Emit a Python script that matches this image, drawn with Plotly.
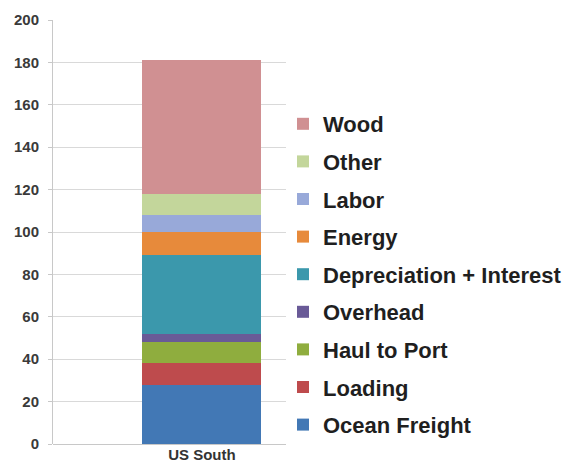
import plotly.graph_objects as go

# Cost build-up for a single supply region, stacked bottom to top
region = ["US South"]
components = [
    "Ocean Freight", "Loading", "Haul to Port", "Overhead",
    "Depreciation + Interest", "Energy", "Labor", "Other", "Wood",
]
costs = [28, 10, 10, 4, 37, 11, 8, 10, 63]
colors = [
    "#4278b5", "#be4b4d", "#8fad3e", "#695a97",
    "#3b98ac", "#e78a3b", "#98a9d9", "#c3d69b", "#d09092",
]
y_ticks = list(range(0, 201, 20))

fig = go.Figure()
n = len(components)
for i, (name, val, col) in enumerate(zip(components, costs, colors)):
    fig.add_trace(go.Bar(
        x=region, y=[val], name=name, legendgroup=name,
        legendrank=n - i,  # top of the stack listed first
        marker=dict(color=col, line=dict(width=0)),
        width=0.511,
    ))

fig.update_layout(
    template="none",
    width=568, height=469,
    margin=dict(l=53, r=282, t=20, b=25, autoexpand=False),
    barmode="stack",
    paper_bgcolor="white", plot_bgcolor="white",
    font=dict(family="Liberation Sans, Arial, sans-serif", color="#262626"),
    showlegend=True,
    legend=dict(
        traceorder="grouped",
        xref="container", yref="paper",
        x=283 / 568, xanchor="left",
        y=(444 - 103) / 424, yanchor="top",
        font=dict(size=22, family="Liberation Sans, Arial, sans-serif", color="#1f1f1f", weight="bold"),
        tracegroupgap=6,
        itemwidth=30,
        bgcolor="rgba(0,0,0,0)",
    ),
    xaxis=dict(
        type="category",
        range=[-0.639, 0.361],
        showgrid=False,
        showline=False,
        ticks="",
        tickfont=dict(size=15, color="#333333", weight="bold"),
        automargin=False,
        fixedrange=True,
    ),
    yaxis=dict(
        range=[0, 200],
        tickvals=y_ticks,
        showgrid=True, gridcolor="#d9d9d9", gridwidth=1,
        showline=True, linecolor="#c8c8c8", linewidth=1,
        ticks="outside", ticklen=4, tickcolor="#c8c8c8",
        ticklabelstandoff=6,
        tickfont=dict(size=15, color="#3a3a3a", weight="bold"),
        zeroline=True, zerolinecolor="#c8c8c8", zerolinewidth=1,
        automargin=False,
        fixedrange=True,
    ),
)

fig.write_html("out.html")
